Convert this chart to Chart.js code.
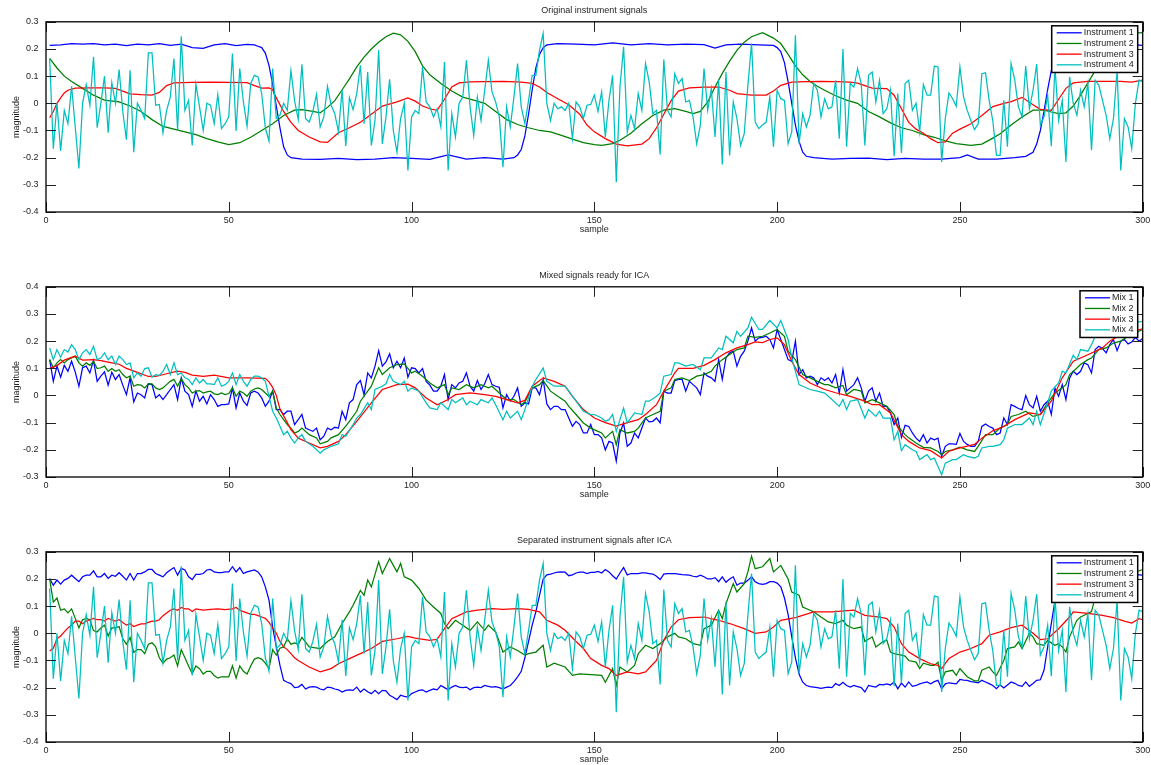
<!DOCTYPE html>
<html>
<head>
<meta charset="utf-8">
<title>ICA instrument signals</title>
<script src="https://cdn.jsdelivr.net/npm/chart.js@4.4.1/dist/chart.umd.min.js"></script>
<style>
  html, body { margin: 0; padding: 0; background: #fff; overflow: hidden; }
  canvas { position: absolute; left: 0; }
</style>
</head>
<body>
<canvas id="panel-orig" width="1151" height="240" style="top:0px"></canvas>
<canvas id="panel-mix" width="1151" height="240" style="top:265px"></canvas>
<canvas id="panel-sep" width="1151" height="240" style="top:530px"></canvas>
<script>
// =============================================
// DATA
// plain arrays = one value per sample (1..300), pair arrays = [sample, magnitude]
// =============================================

const sampleTicks = [0, 50, 100, 150, 200, 250, 300];
const origTicks = [-0.4, -0.3, -0.2, -0.1, 0, 0.1, 0.2, 0.3];
const mixTicks  = [-0.3, -0.2, -0.1, 0, 0.1, 0.2, 0.3, 0.4];
const sepTicks  = [-0.4, -0.3, -0.2, -0.1, 0, 0.1, 0.2, 0.3];

const instrumentLabels = ['Instrument 1', 'Instrument 2', 'Instrument 3', 'Instrument 4'];
const mixLabels = ['Mix 1', 'Mix 2', 'Mix 3', 'Mix 4'];
const lineColors = ['#0000ff', '#007f00', '#ff0000', '#00bfbf'];

// --- Original instrument signals ---
const origInst1 = [[1,.213],[4,.215],[7,.22],[10,.218],[13,.22],[16,.215],[19,.218],[22,.212],[25,.218],[28,.215],[31,.22],[34,.213],[37,.218],[40,.205],[43,.202],[46,.215],[49,.22],[52,.212],[55,.217],[57,.215],[58,.21],[59,.205],[60,.185],[61,.14],[62,.07],[63,-.01],[64,-.09],[65,-.16],[66,-.19],[67,-.2],[70,-.205],[75,-.206],[80,-.203],[85,-.207],[90,-.205],[95,-.2],[100,-.203],[105,-.206],[110,-.19],[115,-.205],[120,-.2],[125,-.205],[128,-.2],[129,-.19],[130,-.17],[131,-.12],[132,-.04],[133,.05],[134,.13],[135,.18],[136,.205],[137,.215],[140,.22],[145,.218],[150,.215],[155,.222],[160,.215],[165,.22],[170,.215],[175,.218],[180,.216],[183,.203],[186,.215],[190,.218],[195,.215],[199,.213],[200,.205],[201,.19],[202,.15],[203,.08],[204,0],[205,-.08],[206,-.14],[207,-.18],[208,-.195],[210,-.2],[215,-.205],[220,-.203],[225,-.202],[230,-.207],[235,-.203],[240,-.205],[245,-.205],[250,-.2],[252,-.19],[255,-.205],[260,-.205],[265,-.2],[268,-.195],[270,-.18],[271,-.15],[272,-.1],[273,-.03],[274,.05],[275,.12],[276,.17],[277,.2],[278,.212],[280,.215],[285,.218],[290,.215],[295,.218],[300,.213]];

const origInst2 = [[1,.165],[3,.13],[5,.1],[7,.08],[10,.055],[13,.03],[16,.012],[20,.005],[23,-.01],[26,-.03],[29,-.06],[32,-.085],[35,-.095],[38,-.105],[41,-.115],[44,-.13],[47,-.142],[50,-.152],[53,-.145],[56,-.125],[59,-.1],[62,-.075],[65,-.045],[68,-.025],[70,-.023],[73,-.03],[75,-.035],[77,-.015],[79,.01],[81,.05],[83,.09],[85,.134],[87,.17],[89,.2],[91,.225],[93,.245],[95,.258],[97,.252],[99,.228],[101,.19],[103,.138],[105,.105],[108,.073],[111,.045],[114,.023],[117,.012],[120,0],[123,-.03],[126,-.06],[129,-.078],[132,-.09],[135,-.1],[138,-.105],[141,-.118],[144,-.132],[147,-.145],[150,-.152],[152,-.155],[155,-.148],[157,-.136],[160,-.11],[163,-.075],[166,-.045],[169,-.025],[172,-.02],[175,-.03],[177,-.038],[179,-.03],[181,.005],[183,.06],[185,.11],[187,.155],[189,.195],[191,.225],[193,.245],[196,.26],[199,.24],[201,.22],[203,.18],[205,.138],[207,.105],[209,.08],[211,.063],[213,.048],[216,.028],[219,.012],[222,0],[225,-.03],[228,-.05],[231,-.072],[234,-.09],[237,-.1],[240,-.115],[243,-.125],[246,-.138],[249,-.148],[253,-.155],[256,-.15],[259,-.128],[261,-.112],[264,-.08],[267,-.05],[270,-.025],[273,-.025],[275,-.032],[277,-.038],[279,-.035],[281,-.01],[283,.03],[285,.075],[287,.12],[289,.16],[291,.195],[293,.225],[296,.25],[298,.258],[300,.26]];

const origInst3 = [[1,-.053],[2,-.03],[3,0],[4,.02],[5,.038],[6,.048],[8,.056],[12,.057],[16,.057],[19,.055],[21,.045],[23,.035],[26,.032],[29,.03],[31,.04],[33,.065],[35,.075],[40,.077],[45,.078],[50,.077],[55,.076],[57,.065],[59,.056],[61,.057],[62,.05],[63,.02],[65,-.03],[67,-.07],[69,-.1],[72,-.124],[75,-.142],[77,-.144],[80,-.108],[83,-.09],[86,-.07],[89,-.04],[92,-.01],[96,.005],[99,.02],[101,.008],[103,-.01],[105,-.02],[107,-.026],[109,.015],[111,.06],[113,.075],[116,.079],[120,.08],[125,.081],[130,.078],[133,.073],[135,.06],[137,.04],[140,.017],[143,-.005],[146,-.04],[148,-.08],[150,-.105],[153,-.13],[156,-.15],[159,-.157],[163,-.15],[165,-.13],[167,-.09],[169,-.04],[171,.01],[173,.045],[176,.057],[180,.06],[184,.06],[187,.048],[189,.036],[193,.03],[197,.03],[199,.045],[201,.066],[204,.078],[208,.08],[212,.081],[216,.08],[220,.078],[222,.074],[224,.065],[226,.056],[230,.054],[232,.03],[234,-.02],[236,-.07],[238,-.095],[240,-.11],[242,-.13],[244,-.145],[246,-.142],[248,-.11],[250,-.095],[253,-.075],[256,-.045],[259,-.012],[262,0],[264,.006],[267,.022],[270,-.005],[272,-.022],[275,-.026],[277,.015],[279,.055],[281,.075],[285,.081],[290,.081],[294,.081],[297,.078],[300,.085]];

const origInst4 = [
  .165,-.167,0,-.175,-.026,-.075,.063,-.087,-.24,0,
  .069,-.007,.171,-.09,0,.1,-.108,.076,0,.124,
  -.03,-.134,.122,-.18,0,-.026,-.056,.186,.186,-.007,
  -.004,-.109,-.026,.023,.165,-.1,.247,-.026,.011,-.155,
  .07,-.013,-.1,0,-.007,-.075,.032,-.093,-.075,-.05,
  .183,-.102,.128,.005,-.084,.073,.103,.097,.036,-.09,
  -.139,.128,-.056,-.044,0,-.026,.12,.01,-.06,.144,
  -.056,-.069,-.03,.033,-.087,-.05,.063,-.007,-.038,-.105,
  .05,-.157,.021,-.023,.036,.14,-.075,.115,-.155,-.063,
  .196,-.149,-.05,.088,-.1,-.18,-.056,0,-.247,-.05,
  -.026,-.038,.134,.005,-.013,-.05,-.02,-.087,.152,-.247,
  -.038,-.124,0,.023,.158,-.013,-.118,.023,-.063,.048,
  .158,.042,.005,-.05,-.235,-.013,-.087,.023,.146,-.013,
  -.075,.011,.103,.103,.196,.257,0,-.063,0,-.02,
  -.013,-.026,0,-.13,.005,-.013,-.056,-.007,-.004,.03,
  -.03,.042,-.124,.011,.103,-.29,.06,.208,-.105,-.044,
  -.093,.036,-.026,.146,.079,-.038,-.026,-.188,.161,-.026,
  -.05,.109,.073,.091,.005,.011,-.05,-.149,-.08,.128,
  -.026,.054,-.124,.085,-.225,.115,-.192,.005,-.056,-.155,
  -.112,.066,.22,-.069,-.093,-.08,-.069,.023,-.16,.048,
  .017,.011,-.149,-.105,.25,-.149,-.038,-.087,-.044,.073,
  .048,-.05,.017,-.02,-.013,.085,-.13,.2,-.16,.073,
  .06,.128,.073,-.155,.103,.115,.005,.085,-.038,-.02,
  .048,-.195,.036,-.183,.073,.085,-.026,0,-.105,.069,
  .03,.03,.137,.134,-.216,-.056,.038,.017,-.011,.134,
  .023,-.026,-.063,-.097,-.075,.109,.112,.011,-.065,-.192,
  -.192,.011,-.16,.146,.085,-.013,-.05,.137,-.02,.048,
  .144,-.08,-.05,.03,-.158,.134,-.063,.011,-.216,.097,
  0,-.044,.048,-.013,.073,-.173,.085,.066,.011,-.044,
  -.13,-.056,.122,-.247,-.056,-.087,-.167,0,.085,.08
];

// --- Mixed signals ---
const mix1 = [
  .132,.052,.108,.067,.111,.089,.126,.086,.034,.102,
  .108,.083,.129,.052,.071,.087,.038,.086,.059,.077,
  .038,.003,.065,-.024,.009,.003,-.009,.043,.04,-.009,
  .003,-.015,.003,.022,.04,-.015,.065,.016,.003,-.04,
  .016,-.021,-.003,-.031,.003,-.015,-.04,-.034,-.034,-.031,
  .028,-.046,.009,-.021,-.037,.009,.016,.009,-.009,-.04,
  -.021,.016,-.052,-.052,-.07,-.058,-.058,-.107,-.089,-.07,
  -.12,-.126,-.132,-.12,-.163,-.15,-.12,-.126,-.117,-.12,
  -.058,-.089,-.027,-.015,.04,.055,.003,.083,.065,.108,
  .165,.108,.124,.153,.102,.126,.102,.138,.067,.102,
  .099,.083,.099,.052,.038,.016,.016,.034,.077,-.015,
  .04,.028,.046,.052,.083,.034,.016,.055,.022,.043,
  .077,.04,.034,.03,-.046,.003,-.021,-.003,.028,-.04,
  -.027,-.031,.028,.028,.003,.059,-.031,-.052,-.04,-.04,
  -.052,-.052,-.083,-.113,-.095,-.107,-.138,-.138,-.107,-.144,
  -.144,-.156,-.2,-.169,-.175,-.242,-.138,-.101,-.187,-.175,
  -.138,-.156,-.12,-.083,-.097,-.095,-.083,-.101,.016,.009,
  .009,.055,.059,.059,.016,.052,.04,.028,.003,.083,
  .071,.065,.052,.132,.059,.138,.157,.163,.108,.144,
  .163,.2,.249,.2,.212,.214,.218,.206,.175,.243,
  .206,.169,.132,.126,.2,.077,.095,.065,.071,.065,
  .04,.065,.055,.065,.046,.077,.009,.095,.016,.028,
  .04,.065,.028,-.021,.016,.028,-.021,.009,-.04,-.04,
  -.064,-.107,-.083,-.154,-.11,-.114,-.138,-.157,-.169,-.144,
  -.175,-.157,-.163,-.157,-.224,-.187,-.178,-.178,-.18,-.14,
  -.169,-.18,-.187,-.187,-.169,-.114,-.105,-.114,-.12,-.144,
  -.138,-.083,-.107,-.034,-.04,-.048,-.052,0,-.034,-.046,
  -.003,-.058,-.034,-.021,-.07,.027,-.003,.04,-.015,.064,
  .089,.077,.089,.12,.113,.083,.169,.181,.173,.157,
  .187,.206,.165,.2,.206,.19,.197,.214,.2,.21
];

const mix2 = [[1,.132],[2,.102],[3,.12],[4,.132],[5,.12],[6,.132],[7,.138],[8,.145],[9,.12],[10,.108],[11,.12],[12,.111],[13,.126],[14,.099],[15,.102],[16,.108],[17,.089],[18,.099],[19,.089],[20,.095],[21,.077],[22,.065],[23,.071],[24,.034],[25,.04],[26,.038],[27,.028],[28,.043],[29,.043],[30,.028],[31,.022],[32,.028],[33,.04],[34,.052],[35,.059],[36,.034],[37,.062],[38,.04],[39,.028],[40,.009],[41,.016],[42,.018],[43,.009],[44,.013],[45,.016],[46,.006],[47,.003],[48,.009],[49,.003],[50,.007],[51,.028],[52,-.003],[53,.016],[54,.009],[55,-.003],[56,.016],[57,.024],[58,.028],[59,.022],[60,.009],[61,-.003],[62,.016],[63,-.046],[64,-.07],[65,-.089],[66,-.107],[67,-.12],[68,-.138],[69,-.132],[70,-.12],[72,-.144],[74,-.156],[75,-.178],[77,-.169],[78,-.156],[80,-.144],[82,-.113],[83,-.095],[85,-.058],[86,-.021],[88,.016],[89,.034],[91,.102],[92,.077],[94,.102],[96,.114],[98,.116],[100,.083],[101,.089],[103,.071],[105,.046],[107,.028],[109,.04],[110,.003],[111,.028],[113,.022],[115,.04],[117,.028],[119,.04],[121,.028],[122,.034],[124,.009],[126,-.015],[128,-.015],[130,-.034],[131,-.024],[133,.028],[135,.04],[136,.055],[138,.016],[140,-.003],[142,-.021],[143,-.04],[145,-.07],[147,-.101],[149,-.12],[151,-.132],[152,-.138],[153,-.156],[155,-.132],[156,-.181],[157,-.126],[159,-.138],[161,-.132],[162,-.12],[164,-.083],[166,-.07],[168,-.058],[169,.016],[171,.028],[172,.059],[174,.065],[176,.055],[178,.071],[180,.077],[182,.089],[183,.108],[185,.132],[187,.151],[189,.169],[191,.175],[192,.218],[194,.214],[196,.218],[198,.23],[200,.243],[202,.218],[203,.163],[205,.132],[207,.077],[209,.065],[211,.052],[213,.04],[214,.04],[216,.028],[218,.037],[219,.003],[221,.022],[223,.016],[224,-.027],[226,-.015],[228,-.027],[230,-.04],[232,-.07],[233,-.113],[235,-.144],[236,-.156],[238,-.175],[240,-.191],[242,-.193],[244,-.206],[245,-.218],[246,-.206],[248,-.2],[250,-.19],[252,-.2],[254,-.206],[255,-.187],[257,-.144],[259,-.144],[261,-.12],[263,-.107],[264,-.077],[266,-.07],[268,-.058],[270,-.077],[272,-.07],[274,-.027],[276,.009],[278,.028],[279,.04],[280,.077],[282,.101],[283,.114],[285,.132],[286,.138],[288,.169],[290,.175],[292,.193],[294,.2],[296,.218],[298,.23],[300,.243]];

const mix3 = [[1,.1],[3,.11],[5,.13],[7,.14],[8,.145],[10,.13],[13,.132],[15,.128],[18,.12],[20,.115],[22,.1],[25,.085],[28,.07],[30,.07],[33,.08],[36,.09],[38,.085],[40,.075],[43,.07],[46,.075],[50,.065],[55,.065],[60,.063],[61,.05],[62,.03],[63,0],[64,-.05],[66,-.1],[67,-.126],[69,-.157],[72,-.175],[75,-.193],[77,-.187],[80,-.169],[82,-.144],[85,-.095],[89,-.027],[92,.022],[96,.04],[99,.042],[101,.028],[104,-.009],[107,-.034],[110,-.015],[112,.003],[116,.01],[120,.003],[123,-.003],[126,-.015],[129,-.027],[131,-.018],[133,.034],[136,.065],[139,.052],[142,.034],[144,-.003],[147,-.052],[150,-.083],[153,-.1],[156,-.113],[159,-.1],[162,-.089],[164,-.07],[167,-.034],[169,.016],[172,.083],[173,.1],[177,.1],[180,.111],[183,.132],[186,.157],[189,.175],[192,.187],[194,.197],[196,.195],[198,.206],[200,.212],[202,.187],[204,.126],[206,.077],[209,.046],[213,.022],[216,.01],[220,-.003],[224,-.021],[226,-.034],[228,-.034],[231,-.064],[234,-.144],[236,-.169],[239,-.193],[242,-.203],[245,-.23],[247,-.205],[250,-.193],[254,-.18],[256,-.157],[259,-.13],[262,-.114],[265,-.089],[269,-.064],[272,-.07],[275,-.021],[278,.065],[281,.126],[285,.15],[289,.175],[291,.2],[294,.224],[297,.235],[300,.245]];

const mix4 = [[1,.175],[2,.132],[3,.169],[4,.141],[5,.169],[6,.16],[7,.187],[8,.169],[9,.132],[10,.157],[11,.169],[12,.151],[13,.181],[14,.132],[15,.138],[16,.157],[17,.132],[18,.145],[19,.114],[20,.145],[21,.132],[22,.114],[23,.12],[24,.065],[25,.083],[26,.071],[27,.099],[28,.102],[29,.067],[30,.077],[31,.074],[32,.089],[33,.114],[34,.077],[35,.12],[36,.077],[37,.083],[38,.065],[39,.059],[40,.04],[41,.065],[42,.046],[43,.059],[44,.043],[45,.043],[46,.04],[47,.065],[48,.034],[49,.04],[50,.052],[51,.083],[52,.04],[53,.077],[54,.052],[55,.034],[56,.059],[57,.071],[58,.071],[59,.065],[60,.052],[61,-.003],[62,-.058],[63,-.083],[64,-.113],[65,-.144],[66,-.132],[67,-.156],[68,-.175],[69,-.156],[70,-.144],[71,-.169],[73,-.187],[75,-.212],[76,-.2],[78,-.187],[80,-.178],[81,-.144],[82,-.15],[84,-.107],[85,-.083],[86,-.07],[88,-.027],[89,-.052],[90,.022],[92,.034],[93,.043],[94,.077],[95,.052],[97,.04],[98,.052],[99,.016],[100,.028],[102,.016],[104,-.027],[105,-.046],[107,-.052],[108,-.027],[110,-.052],[111,-.015],[112,-.027],[114,-.009],[115,-.034],[116,-.021],[118,-.034],[119,-.015],[121,-.027],[122,-.009],[123,-.034],[125,-.089],[126,-.058],[127,-.083],[129,-.058],[130,-.089],[131,-.052],[133,.034],[134,.059],[136,.101],[137,.052],[139,.034],[142,.034],[143,.016],[145,-.021],[147,-.058],[149,-.07],[150,-.07],[152,-.083],[153,-.095],[154,-.089],[155,-.07],[156,-.132],[158,-.046],[159,-.101],[161,-.064],[163,-.07],[164,-.021],[165,-.021],[167,-.003],[168,.009],[169,.071],[171,.077],[172,.12],[173,.12],[175,.108],[177,.114],[179,.095],[180,.138],[182,.138],[184,.175],[185,.169],[186,.218],[188,.194],[189,.236],[190,.218],[192,.249],[193,.288],[195,.243],[196,.243],[198,.276],[200,.249],[201,.276],[203,.206],[204,.138],[206,.04],[207,.034],[209,.022],[211,.016],[213,.009],[214,-.003],[217,-.04],[218,-.015],[219,-.052],[220,-.021],[222,-.015],[224,-.083],[225,-.052],[227,-.077],[228,-.058],[229,-.083],[231,-.083],[232,-.163],[233,-.132],[234,-.203],[235,-.181],[237,-.2],[238,-.206],[239,-.236],[241,-.218],[242,-.236],[243,-.23],[245,-.292],[246,-.249],[248,-.236],[249,-.236],[251,-.218],[252,-.224],[254,-.23],[255,-.224],[256,-.193],[258,-.187],[259,-.187],[261,-.181],[262,-.163],[263,-.12],[265,-.107],[267,-.107],[269,-.083],[270,-.107],[271,-.058],[272,-.107],[274,-.027],[275,.016],[277,.046],[278,.089],[279,.083],[281,.148],[282,.132],[283,.169],[285,.163],[286,.187],[287,.218],[289,.236],[291,.249],[294,.261],[297,.267],[300,.273]];

// --- Separated instrument signals ---
const sepInst1 = [
  .202,.177,.196,.181,.196,.202,.214,.202,.19,.208,
  .214,.214,.23,.208,.208,.22,.202,.214,.21,.223,
  .21,.196,.22,.196,.22,.22,.226,.235,.235,.22,
  .214,.208,.223,.233,.242,.214,.239,.233,.208,.198,
  .217,.217,.22,.233,.235,.226,.223,.223,.226,.226,
  .245,.226,.242,.22,.226,.23,.233,.226,.208,.171,
  .122,.023,-.05,-.118,-.173,-.18,-.185,-.2,-.198,-.188,
  -.205,-.198,-.196,-.198,-.205,-.208,-.198,-.2,-.205,-.208,
  -.216,-.21,-.208,-.21,-.198,-.216,-.205,-.215,-.222,-.21,
  -.222,-.21,-.212,-.228,-.235,-.244,-.228,-.232,-.235,-.222,
  -.216,-.21,-.208,-.216,-.21,-.205,-.208,-.192,-.2,-.208,
  -.198,-.192,-.198,-.2,-.198,-.208,-.2,-.198,-.2,-.192,
  -.195,-.198,-.196,-.2,-.205,-.198,-.192,-.178,-.16,-.14,
  -.09,-.03,.03,.08,.14,.2,.215,.218,.222,.225,
  .226,.225,.212,.215,.222,.225,.225,.22,.224,.224,
  .228,.222,.235,.226,.212,.2,.222,.242,.215,.22,
  .22,.22,.222,.222,.22,.218,.21,.198,.218,.22,
  .22,.22,.218,.216,.215,.214,.21,.208,.214,.208,
  .2,.2,.205,.19,.208,.188,.2,.208,.177,.185,
  .185,.195,.208,.19,.183,.18,.183,.19,.19,.185,
  .171,.13,.07,-.013,-.09,-.15,-.18,-.192,-.196,-.198,
  -.2,-.203,-.2,-.198,-.2,-.185,-.192,-.18,-.192,-.198,
  -.192,-.196,-.2,-.216,-.192,-.195,-.198,-.188,-.19,-.186,
  -.19,-.179,-.204,-.183,-.198,-.179,-.195,-.192,-.186,-.182,
  -.179,-.186,-.178,-.173,-.204,-.186,-.182,-.184,-.186,-.17,
  -.172,-.173,-.178,-.18,-.182,-.173,-.179,-.185,-.192,-.204,
  -.19,-.201,-.19,-.179,-.184,-.192,-.195,-.179,-.195,-.185,
  -.173,-.171,-.136,-.05,.036,.12,.19,.215,.22,.222,
  .224,.225,.222,.218,.22,.225,.222,.218,.22,.225,
  .218,.22,.222,.219,.222,.215,.218,.216,.215,.214
];

const sepInst2 = [[1,.2],[2,.115],[3,.13],[4,.085],[5,.09],[6,.075],[7,.09],[8,.055],[9,.02],[10,.05],[11,.055],[12,.05],[13,.01],[14,.005],[15,.02],[16,.03],[17,-.01],[18,.02],[19,.02],[20,.025],[21,-.02],[22,-.04],[23,-.015],[24,-.07],[25,-.06],[26,-.06],[27,-.075],[28,-.04],[29,-.035],[30,-.05],[31,-.09],[32,-.11],[33,-.095],[34,-.09],[35,-.08],[36,-.12],[37,-.06],[38,-.09],[39,-.12],[40,-.148],[41,-.12],[42,-.13],[43,-.15],[44,-.14],[45,-.14],[46,-.155],[47,-.165],[48,-.16],[49,-.16],[50,-.16],[51,-.12],[52,-.165],[53,-.12],[54,-.14],[55,-.15],[56,-.12],[57,-.095],[58,-.09],[59,-.095],[60,-.11],[61,-.13],[62,-.06],[63,-.08],[64,-.055],[65,-.05],[66,-.02],[67,-.04],[68,-.035],[69,-.04],[70,-.015],[72,-.05],[75,-.056],[77,-.03],[79,-.013],[81,.036],[83,.079],[84,.103],[86,.158],[87,.14],[88,.196],[89,.171],[91,.263],[92,.22],[94,.275],[96,.226],[97,.257],[98,.208],[100,.196],[102,.165],[104,.122],[106,.097],[108,.073],[109,.036],[110,.017],[112,.048],[114,.03],[116,.011],[118,.042],[120,.011],[121,.03],[123,.005],[125,-.069],[127,-.05],[129,-.063],[131,-.08],[132,-.075],[134,-.069],[136,-.044],[137,-.124],[139,-.11],[142,-.124],[144,-.155],[146,-.149],[149,-.152],[152,-.155],[153,-.18],[155,-.13],[156,-.192],[157,-.124],[159,-.142],[161,-.118],[162,-.075],[164,-.044],[166,-.056],[168,-.038],[170,-.013],[172,0],[173,-.013],[175,-.02],[177,-.038],[179,-.044],[180,.017],[182,.03],[184,.085],[185,.054],[186,.109],[188,.183],[189,.152],[191,.183],[192,.226],[193,.284],[194,.238],[196,.245],[198,.275],[199,.226],[201,.25],[203,.2],[204,.152],[206,.14],[207,.097],[209,.085],[210,.079],[212,.06],[214,.042],[216,.036],[218,.048],[219,.03],[221,.017],[223,.023],[224,-.03],[226,-.013],[227,-.05],[229,-.03],[230,-.025],[231,-.069],[232,-.075],[234,-.08],[235,-.084],[236,-.1],[238,-.106],[239,-.13],[240,-.11],[242,-.118],[243,-.118],[244,-.106],[245,-.173],[246,-.142],[248,-.136],[249,-.155],[250,-.13],[252,-.16],[254,-.175],[255,-.175],[256,-.136],[258,-.124],[259,-.142],[260,-.155],[262,-.1],[263,-.056],[265,-.05],[266,-.032],[267,-.056],[269,0],[270,-.013],[271,-.038],[273,-.044],[274,-.026],[276,-.044],[277,-.038],[278,-.05],[279,-.069],[280,-.013],[282,.048],[283,.06],[285,.073],[286,.08],[287,.134],[289,.17],[291,.2],[293,.22],[296,.24],[298,.225],[300,.235]];

const sepInst3 = [[1,-.065],[2,-.055],[3,-.02],[4,-.01],[5,.005],[6,.02],[7,.03],[8,.045],[9,.045],[10,.035],[11,.045],[12,.05],[13,.055],[14,.05],[15,.05],[16,.045],[17,.055],[18,.05],[19,.045],[20,.05],[21,.04],[22,.03],[23,.035],[24,.025],[25,.03],[26,.035],[27,.035],[28,.04],[29,.045],[30,.045],[31,.05],[32,.065],[33,.075],[34,.085],[35,.09],[36,.085],[37,.095],[38,.09],[39,.09],[40,.08],[41,.09],[43,.085],[45,.088],[47,.09],[49,.087],[51,.09],[52,.095],[53,.085],[54,.08],[55,.075],[56,.07],[57,.07],[58,.065],[59,.06],[60,.055],[61,.04],[62,.02],[63,0],[64,-.03],[65,-.05],[66,-.06],[67,-.075],[68,-.09],[69,-.1],[72,-.124],[75,-.142],[78,-.13],[80,-.112],[83,-.093],[86,-.075],[89,-.056],[92,-.03],[96,-.02],[99,-.011],[101,-.018],[105,-.026],[107,-.022],[109,.017],[111,.054],[115,.079],[118,.085],[122,.091],[125,.088],[129,.091],[132,.088],[135,.079],[137,.048],[140,.03],[142,.011],[145,-.03],[147,-.056],[149,-.093],[152,-.118],[154,-.13],[156,-.155],[159,-.142],[162,-.149],[164,-.142],[167,-.1],[169,-.026],[171,.023],[173,.05],[176,.058],[180,.06],[184,.048],[187,.036],[191,.017],[194,0],[197,.005],[199,.023],[201,.048],[205,.058],[210,.079],[215,.079],[221,.085],[224,.066],[228,.06],[230,.054],[232,.023],[234,-.038],[236,-.069],[239,-.093],[242,-.112],[244,-.118],[245,-.13],[247,-.093],[250,-.069],[253,-.056],[256,-.038],[258,-.007],[261,.005],[264,.021],[267,.03],[270,0],[272,-.023],[274,-.02],[277,.017],[280,.06],[281,.079],[285,.073],[289,.066],[292,.058],[295,.045],[297,.038],[299,.054],[300,.05]];

// the recovered instrument 4 follows the original noise track
const sepInst4 = origInst4;

// =============================================
// STYLE
// =============================================
const FAMILY = "'Liberation Sans', Arial, Helvetica, sans-serif";
const TEXT = '#1e1e1e';
const TICK_LEN = 10;

function toPoints(serie) {
    return serie.map((v, i) => Array.isArray(v) ? { x: v[0], y: v[1] } : { x: i + 1, y: v });
}

// matlab style labels: "0", "0.1", "-0.2"
function tickText(v) {
    const r = Math.round(v * 10) / 10;
    return r === 0 ? '0' : r.toFixed(1);
}

// frame + inward ticks on all four sides (matlab look)
const matlabAxes = {
    id: 'matlabAxes',
    afterDatasetsDraw(chart) {
        const { ctx, chartArea: a, scales: { x, y } } = chart;
        ctx.save();
        ctx.strokeStyle = '#222';
        ctx.lineWidth = 1;
        ctx.beginPath();
        x.ticks.forEach(t => {
            const px = Math.round(x.getPixelForValue(t.value)) + 0.5;
            ctx.moveTo(px, a.bottom); ctx.lineTo(px, a.bottom - TICK_LEN);
            ctx.moveTo(px, a.top);    ctx.lineTo(px, a.top + TICK_LEN);
        });
        y.ticks.forEach(t => {
            const py = Math.round(y.getPixelForValue(t.value)) + 0.5;
            ctx.moveTo(a.left, py);  ctx.lineTo(a.left + TICK_LEN, py);
            ctx.moveTo(a.right, py); ctx.lineTo(a.right - TICK_LEN, py);
        });
        ctx.stroke();
        ctx.strokeStyle = '#000';
        ctx.lineWidth = 1.3;
        ctx.strokeRect(a.left, a.top, a.width, a.height);
        ctx.restore();
    }
};

// boxed legend in the top right corner of the plot area
const boxLegend = {
    id: 'boxLegend',
    afterDraw(chart, args, opts) {
        const { ctx, chartArea: a } = chart;
        const sets = chart.data.datasets;
        const rowH = 10.67;
        const w = opts.width;
        const h = sets.length * rowH + 4;
        const left = a.right - 5 - w;
        const top = a.top + 4;
        ctx.save();
        ctx.fillStyle = '#fff';
        ctx.fillRect(left, top, w, h);
        ctx.strokeStyle = '#000';
        ctx.lineWidth = 1.5;
        ctx.strokeRect(left, top, w, h);
        ctx.font = '9px ' + FAMILY;
        ctx.textBaseline = 'middle';
        ctx.textAlign = 'left';
        sets.forEach((ds, i) => {
            const cy = top + 7 + i * rowH;
            ctx.strokeStyle = ds.borderColor;
            ctx.lineWidth = 1.3;
            ctx.beginPath();
            ctx.moveTo(left + 5, cy);
            ctx.lineTo(left + 5 + opts.lineLen, cy);
            ctx.stroke();
            ctx.fillStyle = TEXT;
            ctx.fillText(ds.label, left + 32, cy);
        });
        ctx.restore();
    }
};

function crearPanel(id, titulo, yTicks, labels, series, legendWidth) {
    const font = { family: FAMILY, size: 9 };
    return new Chart(document.getElementById(id), {
        type: 'line',
        data: {
            datasets: series.map((s, i) => ({
                label: labels[i],
                data: toPoints(s),
                borderColor: lineColors[i],
                borderWidth: 1.25,
                pointRadius: 0,
                tension: 0,
                fill: false,
                order: series.length - i
            }))
        },
        options: {
            responsive: false,
            animation: false,
            devicePixelRatio: 1,
            layout: { padding: { left: 0, right: 8.3, top: 0, bottom: 0 } },
            plugins: {
                legend: { display: false },
                tooltip: { enabled: false },
                title: {
                    display: true, text: titulo, fullSize: false, color: TEXT,
                    font: { ...font, weight: 'normal' }, padding: { top: 5, bottom: 6 }
                },
                boxLegend: { width: legendWidth, lineLen: 25 }
            },
            scales: {
                x: {
                    type: 'linear', min: sampleTicks[0], max: sampleTicks[sampleTicks.length - 1],
                    grid: { display: false, drawTicks: false }, border: { display: false },
                    afterBuildTicks: s => { s.ticks = sampleTicks.map(v => ({ value: v })); },
                    ticks: { color: TEXT, font, padding: 3, maxRotation: 0, autoSkip: false },
                    title: { display: true, text: 'sample', color: TEXT, font, padding: { top: 0, bottom: 5 } },
                    afterFit: s => { s.height = 28; s.paddingLeft = 0; s.paddingRight = 0; }
                },
                y: {
                    type: 'linear', min: yTicks[0], max: yTicks[yTicks.length - 1],
                    grid: { display: false, drawTicks: false }, border: { display: false },
                    afterBuildTicks: s => { s.ticks = yTicks.map(v => ({ value: v })); },
                    ticks: { color: TEXT, font, padding: 7.5, autoSkip: false, callback: v => tickText(v) },
                    title: { display: true, text: 'magnitude', color: TEXT, font, padding: { top: 11.6, bottom: 0 } },
                    afterFit: s => { s.width = 46; s.paddingTop = 0; s.paddingBottom = 0; }
                }
            }
        },
        plugins: [matlabAxes, boxLegend]
    });
}

crearPanel('panel-orig', 'Original instrument signals', origTicks, instrumentLabels,
    [origInst1, origInst2, origInst3, origInst4], 86);
crearPanel('panel-mix', 'Mixed signals ready for ICA', mixTicks, mixLabels,
    [mix1, mix2, mix3, mix4], 57.7);
crearPanel('panel-sep', 'Separated instrument signals after ICA', sepTicks, instrumentLabels,
    [sepInst1, sepInst2, sepInst3, sepInst4], 86);
</script>
</body>
</html>
